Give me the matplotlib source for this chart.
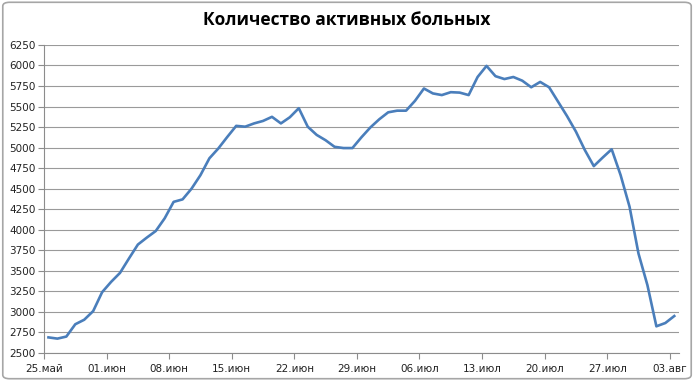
import numpy as np
import pandas as pd
import matplotlib
matplotlib.use("Agg")
import matplotlib.pyplot as plt
from matplotlib.patches import FancyBboxPatch

# Активные больные, по дням с 25 мая
start_date = "2020-05-25"
active = [
    2690, 2675, 2700, 2850, 2905, 3010, 3240, 3365, 3475, 3650,
    3820, 3905, 3985, 4140, 4340, 4370, 4500, 4665, 4870, 4990,
    5130, 5265, 5255, 5295, 5325, 5375, 5295, 5370, 5480, 5255,
    5155, 5090, 5010, 4995, 4995, 5125, 5245, 5345, 5430, 5450,
    5450, 5570, 5720, 5660, 5640, 5675, 5670, 5640, 5860, 5995,
    5870, 5835, 5860, 5815, 5735, 5800, 5735, 5560, 5385, 5195,
    4970, 4775, 4880, 4980, 4665, 4280, 3710, 3325, 2825, 2865,
    2950,
]
tick_labels = ["25.май", "01.июн", "08.июн", "15.июн", "22.июн", "29.июн",
               "06.июл", "13.июл", "20.июл", "27.июл", "03.авг"]
y_ticks = list(range(2500, 6251, 250))

dates = pd.date_range(start_date, periods=len(active), freq="D")
x = dates + pd.Timedelta(hours=12)

fig = plt.figure(figsize=(6.94, 3.81), dpi=100)
border = FancyBboxPatch((0.004, 0.006), 0.992, 0.988,
                        boxstyle="round,pad=0,rounding_size=0.01",
                        transform=fig.transFigure, fill=False,
                        edgecolor="#a6a6a6", linewidth=1.2)
fig.patches.append(border)

ax = fig.add_axes([0.0634, 0.0735, 0.9146, 0.8085])
ax.plot(x, active, color="#4a7ebb", linewidth=1.9, solid_joinstyle="round")

ax.set_ylim(2500, 6250)
ax.set_yticks(y_ticks)
ax.set_yticklabels([str(v) for v in y_ticks])
ax.set_xlim(dates[0], dates[0] + pd.Timedelta(days=len(active)))
ax.set_xticks(dates[::7])
ax.set_xticklabels(tick_labels)

ax.grid(axis="y", color="#9a9a9a", linewidth=0.8)
ax.set_axisbelow(True)
for side in ["top", "right"]:
    ax.spines[side].set_visible(False)
for side in ["left", "bottom"]:
    ax.spines[side].set_color("#8c8c8c")
    ax.spines[side].set_linewidth(0.8)
ax.tick_params(axis="both", labelsize=7.5, colors="#8c8c8c", labelcolor="#222222",
               length=4, width=0.8)
ax.tick_params(axis="x", pad=4)
ax.tick_params(axis="y", pad=2)

fig.text(0.499, 0.947, "Количество активных больных", ha="center", va="center",
         fontsize=12.5, fontweight="bold", family=["Open Sans", "DejaVu Sans"])

fig.savefig("out.png", dpi=100)
